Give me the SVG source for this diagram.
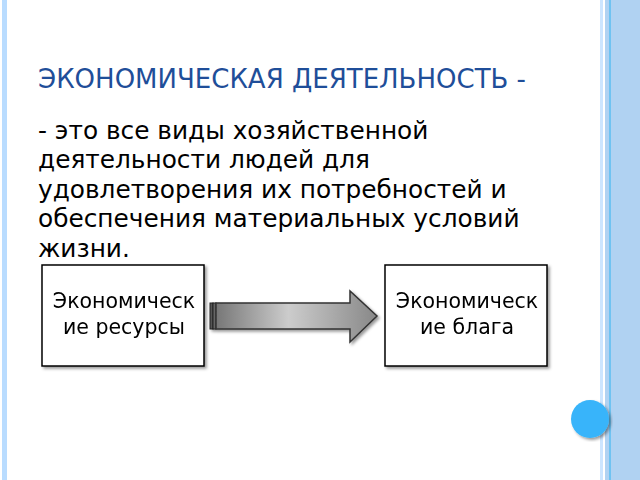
<svg xmlns="http://www.w3.org/2000/svg" width="640" height="480" viewBox="0 0 640 480">
<defs>
<style>
.t{font-family:"DejaVu Sans",sans-serif;fill:#000}
.box{fill:#fff;stroke:#000;stroke-width:1.5}
</style>
<linearGradient id="g" x1="0" x2="1" y1="0" y2="0">
<stop offset="0" stop-color="#777"/><stop offset="0.45" stop-color="#ccc"/><stop offset="1" stop-color="#888"/>
</linearGradient>
<filter id="sh"><feDropShadow dx="2" dy="2" stdDeviation="1.5" flood-opacity="0.4"/></filter>
</defs>
<rect width="640" height="480" fill="#fff"/>
<rect x="2" y="0" width="5" height="480" fill="#b9dcff"/>
<rect x="600" y="0" width="3" height="480" fill="#cce5ff"/>
<rect x="605" y="0" width="35" height="480" fill="#b0d2f2"/>
<rect x="609" y="0" width="2" height="480" fill="#6fc3f2"/>
<text class="t" x="38" y="88" font-size="26" style="fill:#1f4e99">ЭКОНОМИЧЕСКАЯ ДЕЯТЕЛЬНОСТЬ -</text>
<g class="t" font-size="24.8">
<text x="38" y="139">- это все виды хозяйственной</text>
<text x="38" y="168">деятельности людей для</text>
<text x="38" y="198">удовлетворения их потребностей и</text>
<text x="38" y="227">обеспечения материальных условий</text>
<text x="38" y="257">жизни.</text>
</g>
<g id="n1" filter="url(#sh)"><rect class="box" x="42" y="265" width="162" height="101"/>
<text class="t" font-size="20.5" text-anchor="middle"><tspan x="124" y="308">Экономическ</tspan><tspan x="124" y="334">ие ресурсы</tspan></text></g>
<g id="n2" filter="url(#sh)"><rect class="box" x="385" y="265" width="162" height="101"/>
<text class="t" font-size="20.5" text-anchor="middle"><tspan x="467" y="308">Экономическ</tspan><tspan x="467" y="334">ие блага</tspan></text></g>
<g id="connectors" filter="url(#sh)">
<rect x="210" y="303" width="3" height="26" fill="#555" stroke="#222"/>
<rect x="213" y="303" width="3" height="26" fill="#666" stroke="#222"/>
<path d="M216 303 H350 V291 L377 316 L350 342 V329 H216 Z" fill="url(#g)" stroke="#333" stroke-width="1.5"/>
</g>
<circle cx="590" cy="419" r="19" fill="#37b4fa" filter="url(#sh)"/>
</svg>
